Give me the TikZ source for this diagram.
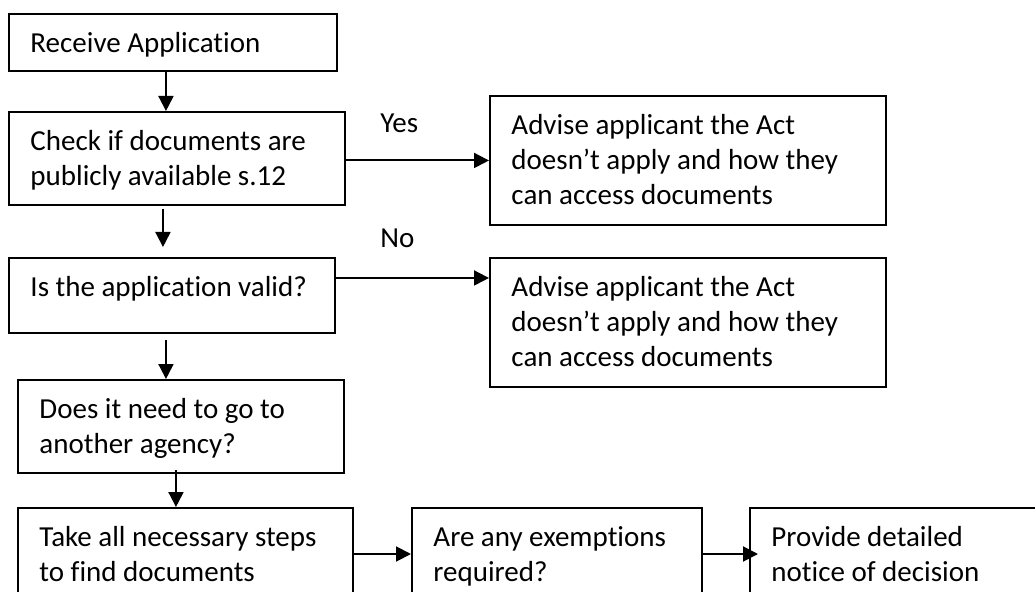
\documentclass[tikz,border=0pt]{standalone}
\usepackage{fontspec}
\setmainfont{Carlito}[Ligatures={NoCommon,NoContextual,NoRequired}]
\usetikzlibrary{arrows.meta}

\begin{document}
\begin{tikzpicture}[
      font=\fontsize{16.5pt}{19.9pt}\selectfont,
      box/.style={draw, line width=1.1pt, anchor=north west, align=left,
                  inner xsep=0.43cm, inner ysep=0pt, text height=0.77cm,
                  execute at begin node={\spaceskip=0.226em\relax}},
      flow/.style={-{Triangle[length=0.30cm, width=0.30cm]}, line width=1.1pt},
      label/.style={anchor=base west, inner sep=0pt}
    ]
    \useasboundingbox (0,0) rectangle (20.70,-11.84);
    \clip (0,0) rectangle (20.70,-11.84);

    % --- Main column --------------------------------------------------------
    \node[box, text width=5.70cm, text depth=0.37cm] (recv)   at (0.16,-0.26)
      {Receive Application};
    \node[box, text width=5.86cm, text depth=1.09cm] (check)  at (0.16,-2.22)
      {Check if documents are\\publicly available s.12};
    \node[box, text width=5.66cm, text depth=0.73cm] (valid)  at (0.16,-5.14)
      {Is the application valid?};
    \node[box, text width=5.66cm, text depth=1.09cm] (agency) at (0.34,-7.58)
      {Does it need to go to\\another agency?};
    \node[box, text width=5.84cm, text depth=1.09cm] (search) at (0.34,-10.14)
      {Take all necessary steps\\to find documents};

    \draw[flow] ([xshift=-0.14cm]recv.south)
      -- ([xshift=-0.14cm]recv.south |- check.north);
    \draw[flow, shorten <=0.06cm, shorten >=0.20cm] ([xshift=-0.28cm]check.south)
      -- ([xshift=-0.28cm]check.south |- valid.north);
    \draw[flow, shorten <=0.12cm] ([xshift=-0.12cm]valid.south)
      -- ([xshift=-0.12cm]valid.south |- agency.north);
    \draw[flow, shorten <=-0.08cm] ([xshift=-0.10cm]agency.south)
      -- ([xshift=-0.10cm]agency.south |- search.north);

    % --- Advice when the Act does not apply ---------------------------------
    \node[box, text width=7.06cm, text depth=1.81cm] (advyes) at (9.78,-1.90)
      {Advise applicant the Act\\doesn’t apply and how they\\can access documents};
    \node[box, text width=7.06cm, text depth=1.81cm] (advno)  at (9.78,-5.14)
      {Advise applicant the Act\\doesn’t apply and how they\\can access documents};

    \draw[flow] ([yshift=-0.04cm]check.east)
      -- ([yshift=-0.04cm]check.east -| advyes.west);
    \draw[flow] ([yshift=0.35cm]valid.east)
      -- ([yshift=0.35cm]valid.east -| advno.west);
    \node[label] (yes) at (7.60,-2.66) {Yes};
    \node[label] (no)  at (7.60,-4.96) {No};

    % --- Bottom row ---------------------------------------------------------
    \node[box, text width=4.94cm, text depth=1.09cm] (exempt)  at (8.22,-10.14)
      {Are any exemptions\\required?};
    \node[box, text width=5.36cm, text depth=1.09cm] (decide) at (14.98,-10.14)
      {Provide detailed\\notice of decision};

    \draw[flow] ([yshift=-0.94cm]search.north east)
      -- ([yshift=-0.94cm]search.north east -| exempt.west);
    \draw[flow, shorten >=-0.18cm] ([yshift=-0.94cm]exempt.north east)
      -- ([yshift=-0.94cm]exempt.north east -| decide.west);
  \end{tikzpicture}
\end{document}
